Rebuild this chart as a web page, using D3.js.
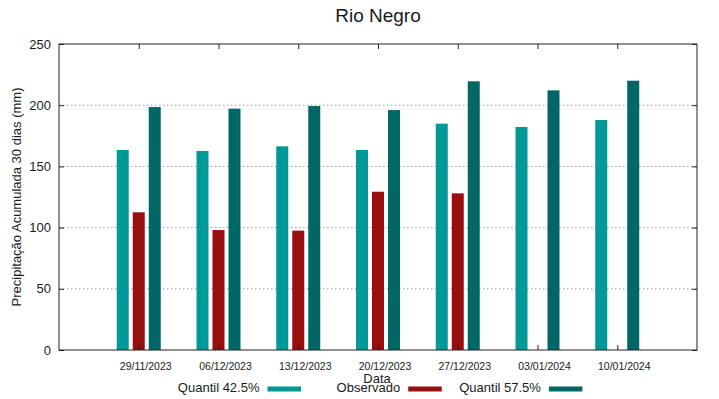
<!DOCTYPE html>
<html>
<head>
<meta charset="utf-8">
<script src="https://cdn.jsdelivr.net/npm/d3@7"></script>
<style>
    body { margin: 0; background: #fff; }
    text { font-family: "Liberation Sans", Arial, sans-serif; fill: #1a1a1a; }
</style>
</head>
<body>
<div id="chart"></div>
<script>
// data
let dates = ["29/11/2023", "06/12/2023", "13/12/2023", "20/12/2023", "27/12/2023", "03/01/2024", "10/01/2024"];
let q425 = [163.4, 162.6, 166.4, 163.4, 184.9, 182.2, 187.9];
let observado = [112.5, 98, 97.5, 129.3, 128, null, null];
let q575 = [198.5, 197.2, 199.3, 196, 219.5, 212.1, 220];
let seriesNames = ["Quantil 42.5%", "Observado", "Quantil 57.5%"];
let yTicks = [0, 50, 100, 150, 200, 250];

let colors = ["#009999", "#990e0e", "#006666"];
let seriesValues = [q425, observado, q575];

let margin = {top: 44, right: 22, bottom: 49, left: 59},
    width = 719 - margin.left - margin.right,
    height = 399 - margin.top - margin.bottom;

let svg = d3.select("#chart")
    .append("svg")
    .attr("width", 719)
    .attr("height", 399)
    .append("g")
    .attr("transform", "translate(" + margin.left + "," + margin.top + ")");

// x: one unit per week, with an empty slot on each side
let x = d3.scaleLinear()
    .domain([-1, dates.length])
    .range([0, width]);

let sub = d3.scaleBand()
    .domain(seriesNames)
    .range([-24, 24])
    .paddingInner(0.25)
    .paddingOuter(0.125);

let y = d3.scaleLinear()
    .domain([0, 250])
    .range([height, 0]);

// dotted grid
svg.append("g")
    .selectAll("line")
    .data(yTicks.filter(d => d > 0 && d < 250))
    .enter()
    .append("line")
    .attr("x1", 0)
    .attr("x2", width)
    .attr("y1", d => y(d))
    .attr("y2", d => y(d))
    .attr("stroke", "#9a9a9a")
    .attr("stroke-width", 1)
    .attr("stroke-dasharray", "1.5,2.5");

// bars
seriesValues.forEach((vals, s) => {
    svg.append("g")
        .selectAll("rect")
        .data(vals.map((v, i) => ({i: i, v: v})).filter(d => d.v != null))
        .enter()
        .append("rect")
        .attr("x", d => x(d.i) + sub(seriesNames[s]))
        .attr("width", sub.bandwidth())
        .attr("y", d => y(d.v))
        .attr("height", d => y(0) - y(d.v))
        .attr("fill", colors[s]);
});

// axes
let yAxis = svg.append("g")
    .call(d3.axisLeft(y).tickValues(yTicks).tickSizeInner(-5).tickSizeOuter(0).tickPadding(8));
yAxis.selectAll("text").style("font-size", "13px");

svg.append("g")
    .attr("transform", "translate(" + width + ",0)")
    .call(d3.axisRight(y).tickValues(yTicks).tickSizeInner(-5).tickSizeOuter(0).tickFormat(""));

let xAxis = svg.append("g")
    .attr("transform", "translate(0," + height + ")")
    .call(d3.axisBottom(x).tickValues(d3.range(dates.length)).tickFormat(i => dates[i])
        .tickSizeInner(-5).tickSizeOuter(0).tickPadding(13));
xAxis.selectAll("text").style("font-size", "10.5px").attr("dx", 6.5);

svg.append("g")
    .call(d3.axisTop(x).tickValues(d3.range(dates.length)).tickSizeInner(-5).tickSizeOuter(0).tickFormat(""));

svg.selectAll(".domain").remove();
svg.selectAll(".tick line").attr("stroke", "#222");

svg.append("rect")
    .attr("width", width)
    .attr("height", height)
    .attr("fill", "none")
    .attr("stroke", "#222")
    .attr("stroke-width", 1);

// title and axis labels
svg.append("text")
    .attr("x", width / 2)
    .attr("y", 22 - margin.top)
    .attr("text-anchor", "middle")
    .style("font-size", "19px")
    .text("Rio Negro");

svg.append("text")
    .attr("x", width / 2 - 1)
    .attr("y", height + 33)
    .attr("text-anchor", "middle")
    .style("font-size", "13px")
    .text("Data");

svg.append("g")
    .attr("transform", "translate(" + (21 - margin.left) + "," + height / 2 + ")")
    .append("text")
    .attr("transform", "rotate(-90)")
    .attr("text-anchor", "middle")
    .style("font-size", "13px")
    .text("Precipitação Acumulada 30 dias (mm)");

// legend
let legend = svg.append("g")
    .attr("transform", "translate(0," + (height + 42) + ")");

seriesNames.forEach((name, s) => {
    let ex = 200.5 + s * 140.7;
    legend.append("text")
        .attr("x", ex)
        .attr("y", 0)
        .attr("text-anchor", "end")
        .style("font-size", "13px")
        .text(name);
    legend.append("rect")
        .attr("x", ex + 8)
        .attr("y", -5.5)
        .attr("width", 33.5)
        .attr("height", 5)
        .attr("fill", colors[s]);
});
</script>
</body>
</html>
